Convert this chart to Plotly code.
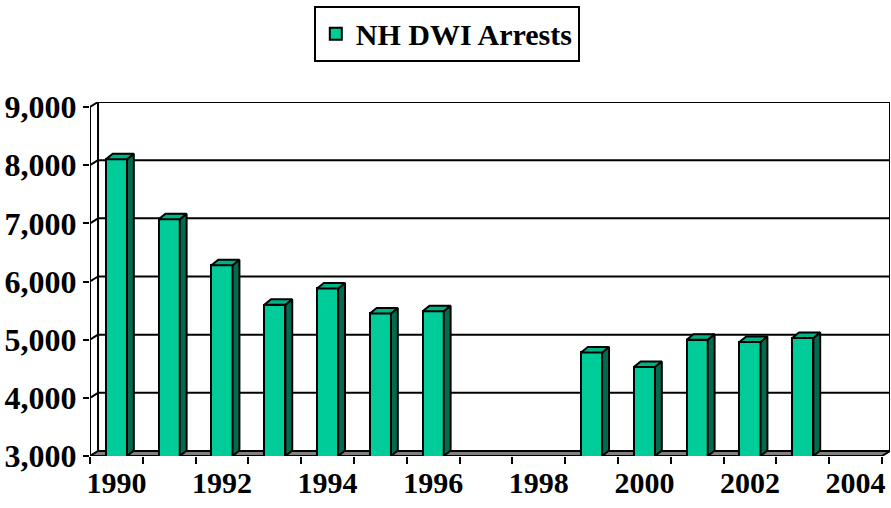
import plotly.graph_objects as go

# data (NH DWI arrests per year)
years = list(range(1990, 2005))
arrests = [8100, 7070, 6280, 5600, 5880, 5450, 5490, None, None,
           4780, 4530, 5000, 4960, 5030, None]
label_years = [1990, 1992, 1994, 1996, 1998, 2000, 2002, 2004]
y_ticks = [3000, 4000, 5000, 6000, 7000, 8000, 9000]

FRONT = "#00CC99"
SIDE = "#006B4F"
TOP = "#00B386"
SERIF = "Liberation Serif, Times New Roman, serif"
FONT = dict(family=SERIF, size=30, color="black", weight="bold")

# 3-D look: depth offsets in data units (back wall and bar depth)
DX, DY = 0.152, 86
BDX, BDY = 0.13, 95
BAR_W = 0.40
x0, x1 = years[0] - 0.5, years[-1] + 0.5
y0, y1 = y_ticks[0], y_ticks[-1]

fig = go.Figure()

# front faces of the columns
fig.add_trace(go.Bar(
    x=years, y=arrests, width=BAR_W, name="NH DWI Arrests",
    marker=dict(color=FRONT, line=dict(color="black", width=2)),
    hoverinfo="x+y",
))

# side and top faces, built from the same values
for yr, v in zip(years, arrests):
    if v is None:
        continue
    l, r = yr - BAR_W / 2, yr + BAR_W / 2
    fig.add_trace(go.Scatter(
        x=[r, r + BDX, r + BDX, r, r],
        y=[y0, y0 + BDY, v + BDY, v, y0],
        mode="lines", fill="toself", fillcolor=SIDE,
        line=dict(color="black", width=2), hoverinfo="skip", showlegend=False,
    ))
    fig.add_trace(go.Scatter(
        x=[l, r, r + BDX, l + BDX, l],
        y=[v, v, v + BDY, v + BDY, v],
        mode="lines", fill="toself", fillcolor=TOP,
        line=dict(color="black", width=2), hoverinfo="skip", showlegend=False,
    ))

shapes = []
line_k = dict(color="black", width=2)
# back wall gridlines and side wall diagonals
for v in y_ticks[1:]:
    shapes.append(dict(type="line", layer="below", x0=x0 + DX, x1=x1 + DX,
                       y0=v + DY, y1=v + DY, line=line_k))
    shapes.append(dict(type="line", layer="below", x0=x0, x1=x0 + DX,
                       y0=v, y1=v + DY, line=line_k))
# back wall verticals
for xv in (x0 + DX, x1 + DX):
    shapes.append(dict(type="line", layer="below", x0=xv, x1=xv,
                       y0=y0 + DY, y1=y1 + DY, line=line_k))
# floor
shapes.append(dict(
    type="path", layer="below",
    path=f"M {x0},{y0} L {x1},{y0} L {x1 + DX},{y0 + DY} L {x0 + DX},{y0 + DY} Z",
    fillcolor="#808080", line=line_k,
))
# front value axis
shapes.append(dict(type="line", layer="above", x0=x0, x1=x0, y0=y0, y1=y1,
                   line=line_k))

fig.update_layout(
    width=891, height=508,
    margin=dict(l=90, r=1, t=102, b=52, autoexpand=False),
    paper_bgcolor="white", plot_bgcolor="white",
    shapes=shapes,
    bargap=0,
    xaxis=dict(
        range=[x0, x1 + DX], showgrid=False, zeroline=False, showline=False,
        automargin=False,
        tickvals=label_years, ticktext=[str(y) for y in label_years],
        ticks="outside", ticklen=0, tickfont=FONT,
        minor=dict(tick0=x0, dtick=1, ticks="outside", ticklen=7,
                   tickwidth=2, tickcolor="black", showgrid=False),
    ),
    yaxis=dict(
        range=[y0, y1 + DY], showgrid=False, zeroline=False, showline=False,
        automargin=False,
        tickvals=y_ticks, tickformat=",d", ticks="outside", ticklen=6,
        tickwidth=2, tickcolor="black", tickfont=dict(FONT, size=32),
    ),
    showlegend=True,
    legend=dict(
        x=0.446, y=1.272, xanchor="center", yanchor="top",
        font=FONT, bgcolor="white", bordercolor="black", borderwidth=2,
    ),
)

# drop the browser's default body margin so the figure sits at the page corner
fig.write_html(
    "out.html",
    config={"displayModeBar": False},
    post_script="document.body.style.margin='0';document.body.style.overflow='hidden';",
)
